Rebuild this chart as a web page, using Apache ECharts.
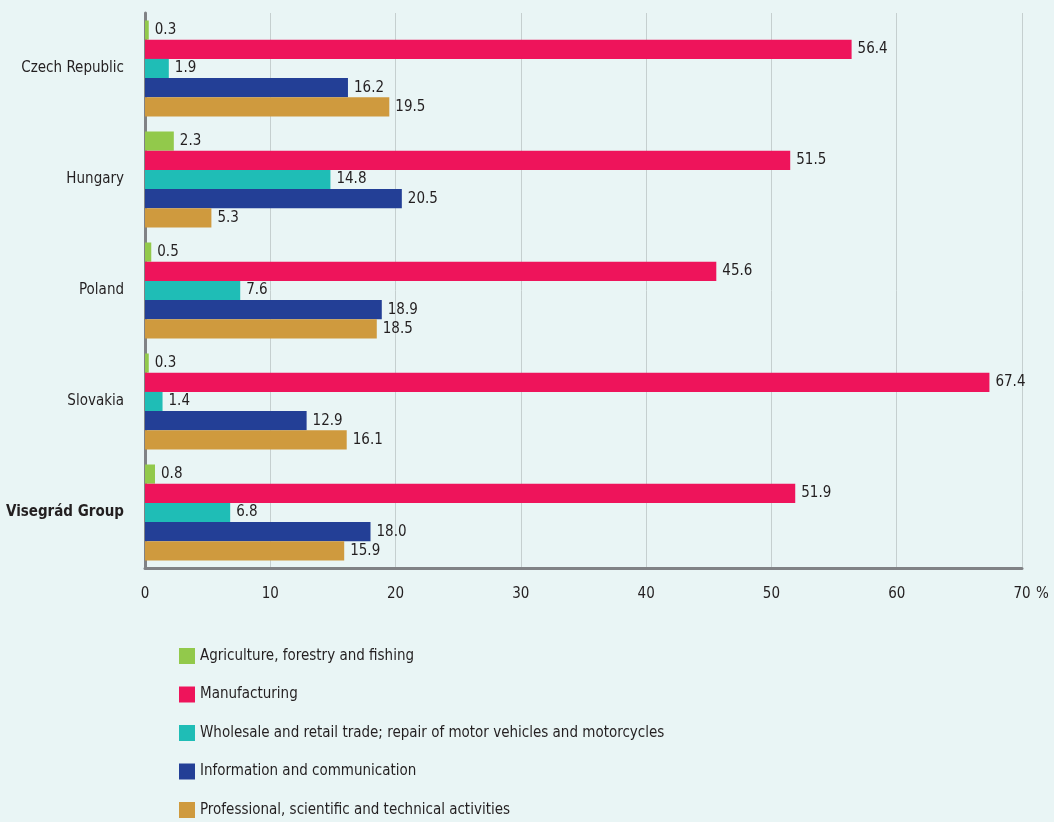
<!DOCTYPE html>
<html><head><meta charset="utf-8">
<script src="https://cdn.jsdelivr.net/npm/echarts@6/dist/echarts.min.js"></script>
<style>html,body{margin:0;padding:0;background:#e9f5f5;}#c{width:1054px;height:822px;}</style>
</head><body><div id="c"></div>
<script>
const categories = ['Czech Republic', 'Hungary', 'Poland', 'Slovakia', 'Visegrád Group'];
const seriesNames = [
  'Agriculture, forestry and fishing',
  'Manufacturing',
  'Wholesale and retail trade; repair of motor vehicles and motorcycles',
  'Information and communication',
  'Professional, scientific and technical activities'
];
const agriculture = [0.3, 2.3, 0.5, 0.3, 0.8];
const manufacturing = [56.4, 51.5, 45.6, 67.4, 51.9];
const wholesale = [1.9, 14.8, 7.6, 1.4, 6.8];
const information = [16.2, 20.5, 18.9, 12.9, 18.0];
const professional = [19.5, 5.3, 18.5, 16.1, 15.9];
const xTicks = [0, 10, 20, 30, 40, 50, 60, 70];
const colors = ['#92c94b', '#ee145b', '#1fbdb6', '#233f96', '#cf9a3e'];

const FONT = '"DejaVu Sans Condensed",sans-serif';
const FS = 15;
const values = [agriculture, manufacturing, wholesale, information, professional];
const chart = echarts.init(document.getElementById('c'));
chart.setOption({
  backgroundColor: '#e9f5f5',
  textStyle: { fontFamily: FONT },
  grid: { left: 145, right: 32, top: 13, bottom: 254, containLabel: false, outerBoundsMode: 'none' },
  legend: {
    orient: 'vertical', left: 179, top: 648, padding: 0,
    itemWidth: 16, itemHeight: 16, itemGap: 22.5,
    icon: 'rect',
    textStyle: { fontFamily: FONT, fontSize: FS, lineHeight: 16, color: '#231f20', padding: [0, 0, 0, 0] },
    data: seriesNames
  },
  xAxis: {
    type: 'value', min: xTicks[0], max: xTicks[xTicks.length - 1], interval: 10,
    axisLine: { show: true, lineStyle: { color: '#808285', width: 3 } },
    axisTick: { show: false },
    splitLine: { show: true, lineStyle: { color: '#c5cfcf', width: 1 } },
    axisLabel: { fontFamily: FONT, fontSize: FS, color: '#231f20', margin: 19 }
  },
  yAxis: {
    type: 'category', data: categories, inverse: true,
    axisLine: { show: true, lineStyle: { color: '#808285', width: 3 } },
    axisTick: { show: false },
    axisLabel: {
      fontFamily: FONT, fontSize: FS, color: '#231f20', margin: 21,
      formatter: v => v === 'Visegrád Group' ? '{b|' + v + '}' : v,
      rich: { b: { fontFamily: FONT, fontSize: FS, fontWeight: 'bold', color: '#231f20' } }
    }
  },
  graphic: [{ type: 'text', left: 1036, top: 587, style: { text: '%', font: FS + 'px ' + FONT, fill: '#231f20' } }],
  series: seriesNames.map((n, i) => ({
    name: n, type: 'bar', data: values[i],
    barGap: '0%', barCategoryGap: '13.5%',
    itemStyle: { color: colors[i] },
    label: {
      show: true, position: 'right', distance: 6,
      fontFamily: FONT, fontSize: FS, color: '#231f20',
      formatter: p => p.value.toFixed(1)
    }
  }))
});
</script></body></html>
